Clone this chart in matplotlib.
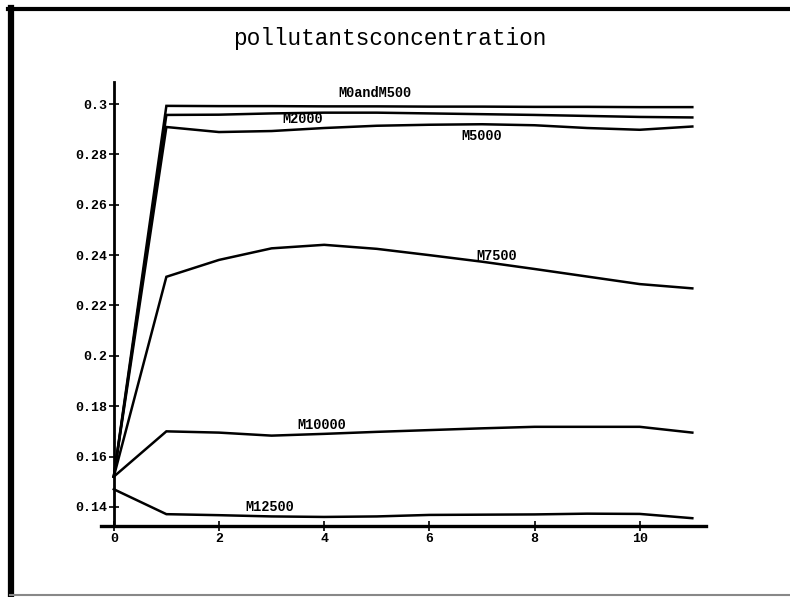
import numpy as np
import matplotlib
matplotlib.use('Agg')
import matplotlib.pyplot as plt
from matplotlib.lines import Line2D

# time steps and pollutant concentration for each scenario
t = [0, 1, 2, 3, 4, 5, 6, 7, 8, 9, 10, 11]
m0_m500 = [0.152, 0.2993, 0.2992, 0.2992, 0.2991, 0.2991, 0.2990, 0.2990, 0.2989, 0.2989, 0.2988, 0.2988]
m2000 = [0.152, 0.2957, 0.2958, 0.2963, 0.2966, 0.2966, 0.2963, 0.2960, 0.2957, 0.2953, 0.2949, 0.2947]
m5000 = [0.152, 0.2909, 0.2889, 0.2893, 0.2905, 0.2914, 0.2918, 0.2920, 0.2916, 0.2905, 0.2898, 0.2911]
m7500 = [0.152, 0.2314, 0.2381, 0.2427, 0.2441, 0.2425, 0.2400, 0.2374, 0.2345, 0.2315, 0.2285, 0.2268]
m10000 = [0.152, 0.1700, 0.1695, 0.1683, 0.1690, 0.1698, 0.1705, 0.1712, 0.1718, 0.1718, 0.1718, 0.1695]
m12500 = [0.147, 0.1371, 0.1367, 0.1362, 0.1360, 0.1362, 0.1368, 0.1369, 0.1370, 0.1373, 0.1372, 0.1355]

series = [m0_m500, m2000, m5000, m7500, m10000, m12500]
labels = ['M0andM500', 'M2000', 'M5000', 'M7500', 'M10000', 'M12500']
label_pos = [(4.97, 0.3046), (3.60, 0.2940), (6.99, 0.2875),
             (7.28, 0.2397), (3.96, 0.1725), (2.97, 0.1398)]

x_ticks = [0, 2, 4, 6, 8, 10]
y_ticks = [0.14, 0.16, 0.18, 0.2, 0.22, 0.24, 0.26, 0.28, 0.3]
y_tick_labels = ['0.14', '0.16', '0.18', '0.2', '0.22', '0.24', '0.26', '0.28', '0.3']

W, H = 790, 597
fig = plt.figure(figsize=(W / 100, H / 100), dpi=100)
fig.patch.set_facecolor('white')

# axes box in pixels: x from 101 to 706, y from 81.7 (top) to 526 (bottom)
ax = fig.add_axes([101 / W, 1 - 526 / H, (706 - 101) / W, (526 - 81.7) / H])
ax.set_xlim(-0.243, 11.26)
ax.set_ylim(0.1324, 0.3089)

for s in series:
    ax.plot(t, s, color='black', lw=1.8, solid_joinstyle='miter')

for lab, (lx, ly) in zip(labels, label_pos):
    ax.text(lx, ly, lab, ha='center', va='center', fontsize=9.8,
            family='Liberation Mono', weight='bold')

ax.spines['top'].set_visible(False)
ax.spines['right'].set_visible(False)
ax.spines['left'].set_position(('data', 0))
ax.spines['left'].set_linewidth(2)
ax.spines['bottom'].set_linewidth(2.4)

ax.set_xticks(x_ticks)
ax.set_xticklabels([str(v) for v in x_ticks])
ax.set_yticks(y_ticks)
ax.set_yticklabels(y_tick_labels)
ax.tick_params(direction='inout', length=7, width=1.2, pad=1.5,
               labelsize=9.5, color='black')
for lab in ax.get_xticklabels() + ax.get_yticklabels():
    lab.set_family('Liberation Mono')
    lab.set_weight('bold')
ax.patch.set_visible(False)

fig.text(390 / W, 1 - 39 / H, 'pollutantsconcentration', ha='center', va='center',
         fontsize=16.4, family='Liberation Mono')

# page frame: heavy left and top edges, faint bottom edge
fig.add_artist(Line2D([10.5 / W, 10.5 / W], [0, 1 - 8 / H], transform=fig.transFigure,
                      color='black', lw=4.5))
fig.add_artist(Line2D([8 / W, 1], [1 - 9 / H, 1 - 9 / H], transform=fig.transFigure,
                      color='black', lw=3))
fig.add_artist(Line2D([10 / W, 1], [1 - 595 / H, 1 - 595 / H], transform=fig.transFigure,
                      color='#888888', lw=1.5))

fig.savefig('out.png', dpi=100)
